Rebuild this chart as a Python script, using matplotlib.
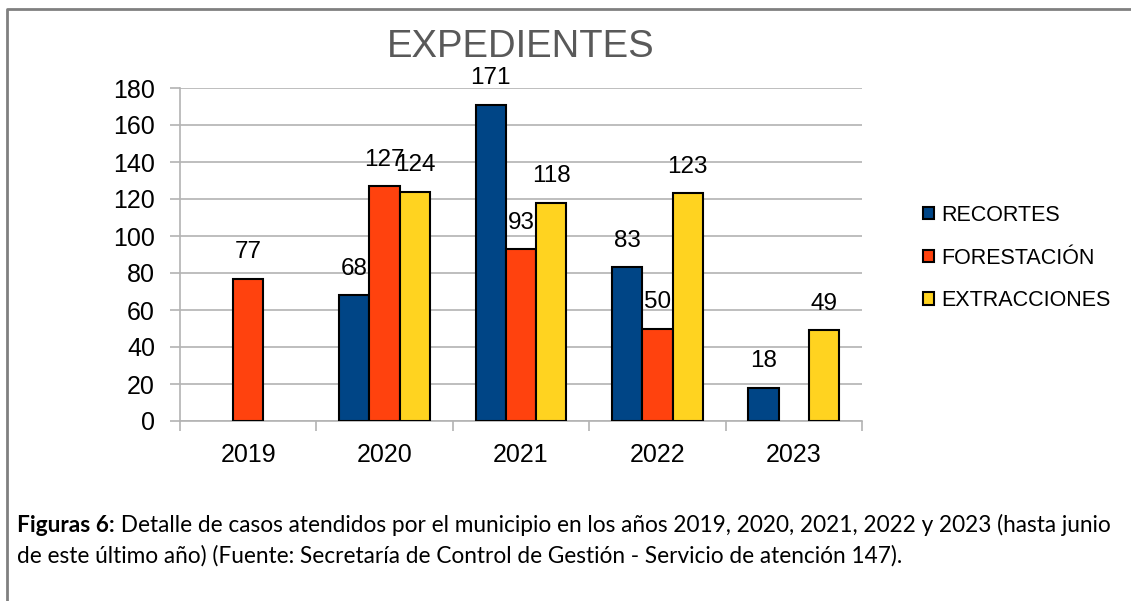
import matplotlib.pyplot as plt
import numpy as np
from matplotlib.lines import Line2D

years = ["2019", "2020", "2021", "2022", "2023"]
recortes = [np.nan, 68, 171, 83, 18]
forestacion = [77, 127, 93, 50, np.nan]
extracciones = [np.nan, 124, 118, 123, 49]
series_names = ["RECORTES", "FORESTACIÓN", "EXTRACCIONES"]
colors = ["#004586", "#ff420e", "#ffd320"]

caption_bold = "Figuras 6:"
caption_1 = " Detalle de casos atendidos por el municipio en los años 2019, 2020, 2021, 2022 y 2023 (hasta junio"
caption_2 = "de este último año) (Fuente: Secretaría de Control de Gestión - Servicio de atención 147)."

plt.rcParams['font.family'] = ['Liberation Sans', 'DejaVu Sans']

W, H = 1131, 601
fig = plt.figure(figsize=(W / 100, H / 100), dpi=100)
ax = fig.add_axes([180 / W, 1 - 421 / H, (862 - 180) / W, (421 - 88) / H])

x = np.arange(len(years))
w = 0.222
for i, (vals, c) in enumerate(zip([recortes, forestacion, extracciones], colors)):
    pos = x + (i - 1) * w
    v = np.array(vals, dtype=float)
    ax.bar(pos, v, width=w, color=c, edgecolor="black", linewidth=1.5,
           label=series_names[i], zorder=3)
    for px, py in zip(pos, v):
        if np.isnan(py):
            continue
        ax.annotate(str(int(py)), (px, py), xytext=(0, 19), textcoords="offset points",
                    ha="center", va="center", fontsize=17.5, zorder=4)

ax.set_xlim(-0.5, 4.5)
ax.set_ylim(0, 180)
ax.set_yticks(np.arange(0, 181, 20))
ax.set_xticks(x)
ax.set_xticklabels(years)
ax.set_xticks(np.arange(-0.5, 4.6, 1), minor=True)
ax.tick_params(axis="x", which="major", length=0, pad=16, labelsize=18)
ax.tick_params(axis="x", which="minor", length=7, color="#b3b3b3", width=1.2)
ax.tick_params(axis="y", length=7, color="#b3b3b3", width=1.2, pad=11, labelsize=18)
ax.grid(axis="y", color="#b3b3b3", linewidth=1.2, zorder=0)
for s in ["top", "right"]:
    ax.spines[s].set_visible(False)
for s in ["left", "bottom"]:
    ax.spines[s].set_color("#b3b3b3")
    ax.spines[s].set_linewidth(1.2)

fig.text(521 / W, 1 - 47 / H, "EXPEDIENTES", ha="center", va="center",
         fontsize=27.5, color="#595959")

leg = fig.legend(loc="center left", bbox_to_anchor=(912 / W, 1 - 258 / H), frameon=False,
                 fontsize=15.5, handlelength=0.5, handleheight=0.5, handletextpad=0.35,
                 labelspacing=1.0, borderpad=0)

# outer frame (only left and top edges visible)
fig.add_artist(Line2D([7 / W, 7 / W, 1.0], [0.0, 1 - 9 / H, 1 - 9 / H],
                      transform=fig.transFigure, color="#808080", linewidth=2))

cap_font = ['Lato', 'DejaVu Sans']
cap_size = 16.3
t1 = fig.text(17 / W, 1 - 532 / H, caption_bold, fontsize=cap_size, fontweight="bold",
              family=cap_font, va="baseline")
ax.annotate(caption_1, xy=(1, 0), xycoords=t1, va="bottom", ha="left",
            fontsize=cap_size, family=cap_font, annotation_clip=False)
fig.text(17 / W, 1 - 563 / H, caption_2, fontsize=cap_size, family=cap_font, va="baseline")

fig.savefig("out.png", dpi=100)
